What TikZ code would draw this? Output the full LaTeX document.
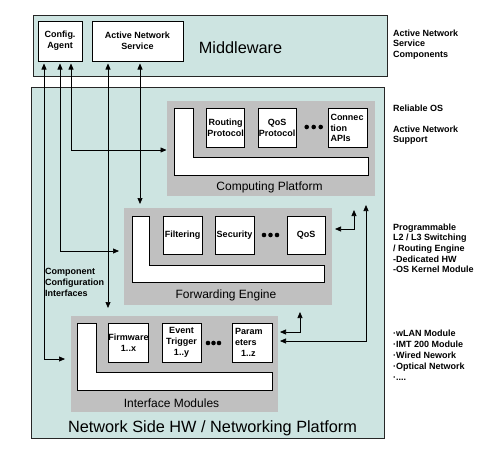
\documentclass[tikz,border=0pt]{standalone}
\usepackage{fontspec}
\setmainfont{Liberation Sans}
\usetikzlibrary{arrows.meta}
\definecolor{mwbg}{RGB}{205,228,225}
\definecolor{greyb}{RGB}{192,192,192}
\begin{document}
\begin{tikzpicture}[x=1pt,y=-1pt,
  outer/.style={draw=black!85, fill=mwbg, line width=0.8pt, inner sep=0pt},
  gbox/.style={fill=greyb, inner sep=0pt},
  wbox/.style={draw=black, fill=white, line width=0.7pt, inner sep=0pt,
    font=\fontsize{9}{10.8}\selectfont\bfseries, align=center},
  lshape/.style={draw=black, fill=white, line width=0.7pt},
  biglbl/.style={font=\fontsize{16.3}{18}\selectfont, inner sep=0pt},
  midlbl/.style={font=\fontsize{12}{14}\selectfont, inner sep=0pt},
  side/.style={font=\fontsize{9}{10.6}\selectfont\bfseries, align=left, anchor=north west, inner sep=0pt},
  arr/.style={{Triangle[length=6pt,width=5pt]}-{Triangle[length=6pt,width=5pt]}, line width=0.7pt},
  dotmark/.style={fill=black}
]
\useasboundingbox (0,0) rectangle (485,450);

% Containers
\node[outer, minimum width=354, minimum height=61] (mw) at (210,45.5) {};
\node[outer, minimum width=353, minimum height=351] (hw) at (207.5,262.5) {};

\node[biglbl] (mwl) at (240.5,48) {Middleware};
\node[biglbl] (hwl) at (212.5,428) {Network Side HW / Networking Platform};

% Middleware boxes
\node[wbox, minimum width=44, minimum height=40] (ca) at (60,41) {Config.\\Agent};
\node[wbox, minimum width=91, minimum height=40] (ans) at (137.5,41) {Active Network\\Service};

% Computing Platform
\node[gbox, minimum width=208, minimum height=95] (cp) at (271,148.5) {};
\draw[lshape] (174,108) -- (193,108) -- (193,157) -- (368,157) -- (368,175) -- (174,175) -- cycle;
\node[wbox, minimum width=37.6, minimum height=39.5] (rp) at (225.5,128) {Routing\\Protocol};
\node[wbox, minimum width=38, minimum height=39.5] (qp) at (277,128) {QoS\\Protocol};
\node[wbox, minimum width=39, minimum height=39.5, align=left, text width=34] (capi) at (347.5,128) {Connec\\tion\\APIs};
\fill[dotmark] (306.7,127) circle[radius=2.3pt] (313.7,127) circle[radius=2.3pt] (320.7,127) circle[radius=2.3pt];
\node[midlbl] (cpl) at (269.5,187.5) {Computing Platform};

% Forwarding Engine
\node[gbox, minimum width=208, minimum height=97] (fe) at (228,256.5) {};
\draw[lshape] (132,216) -- (149,216) -- (149,265) -- (324,265) -- (324,282) -- (132,282) -- cycle;
\node[wbox, minimum width=39, minimum height=38] (fil) at (182.5,235) {Filtering};
\node[wbox, minimum width=39, minimum height=38] (sec) at (234.5,235) {Security};
\node[wbox, minimum width=38, minimum height=38] (qos) at (306,235) {QoS};
\fill[dotmark] (264,235) circle[radius=2.3pt] (270.5,235) circle[radius=2.3pt] (277,235) circle[radius=2.3pt];
\node[midlbl] (fel) at (226,295) {Forwarding Engine};

% Interface Modules
\node[gbox, minimum width=207, minimum height=96] (im) at (174.5,364) {};
\draw[lshape] (77,323) -- (96,323) -- (96,372) -- (272,372) -- (272,390) -- (77,390) -- cycle;
\node[wbox, minimum width=39, minimum height=39] (fw) at (128.5,342.5) {Firmware\\1..x};
\node[wbox, minimum width=39, minimum height=39] (et) at (181.5,342.5) {Event\\Trigger\\1..y};
\node[wbox, minimum width=40, minimum height=39, align=left, text width=34] (par) at (252,342.5) {Param\\eters\\\hspace*{6pt}1..z};
\fill[dotmark] (208,343) circle[radius=2.3pt] (213.5,343) circle[radius=2.3pt] (219,343) circle[radius=2.3pt];
\node[midlbl] (iml) at (171.5,403) {Interface Modules};

% Side labels
\node[side] (s1) at (393,29.5) {Active Network\\Service\\Components};
\node[side] (s2) at (393,104.5) {Reliable OS};
\node[side] (s3) at (393,125.5) {Active Network\\Support};
\node[side] (s4) at (393,223.5) {Programmable\\L2 / L3 Switching\\/ Routing Engine\\-Dedicated HW\\-OS Kernel Module};
\node[side, font=\fontsize{9}{11}\selectfont\bfseries] (s5) at (393,329.5) {·wLAN Module\\·IMT 200 Module\\·Wired Nework\\·Optical Network\\·....};
\node[side] (s6) at (45,268.5) {Component\\Configuration\\Interfaces};

% Connector end points
\coordinate (a1t) at (44,63.5);   \coordinate (a1m) at (44,359);  \coordinate (a1e) at (65,359);
\coordinate (a2t) at (60,63.5);   \coordinate (a2m) at (60,251);  \coordinate (a2e) at (119,251);
\coordinate (a3t) at (71,63.5);   \coordinate (a3m) at (71,150);  \coordinate (a3e) at (166.5,150);
\coordinate (a4t) at (108,63.5);  \coordinate (a4e) at (108,308);
\coordinate (a5t) at (140,63.5);  \coordinate (a5e) at (140,204);
\coordinate (b1s) at (335,229);   \coordinate (b1m) at (354,229); \coordinate (b1e) at (354,210);
\coordinate (b2s) at (366,205);   \coordinate (b2m) at (366,341); \coordinate (b2e) at (280,341);
\coordinate (b3s) at (280,332);   \coordinate (b3m) at (300,332); \coordinate (b3e) at (300,312);

% Connectors
\draw[arr] (a1t) -- (a1m) -- (a1e);
\draw[arr] (a2t) -- (a2m) -- (a2e);
\draw[arr] (a3t) -- (a3m) -- (a3e);
\draw[arr] (a4t) -- (a4e);
\draw[arr] (a5t) -- (a5e);
\draw[arr] (b1s) -- (b1m) -- (b1e);
\draw[arr] (b2s) -- (b2m) -- (b2e);
\draw[arr] (b3s) -- (b3m) -- (b3e);
\end{tikzpicture}
\end{document}
